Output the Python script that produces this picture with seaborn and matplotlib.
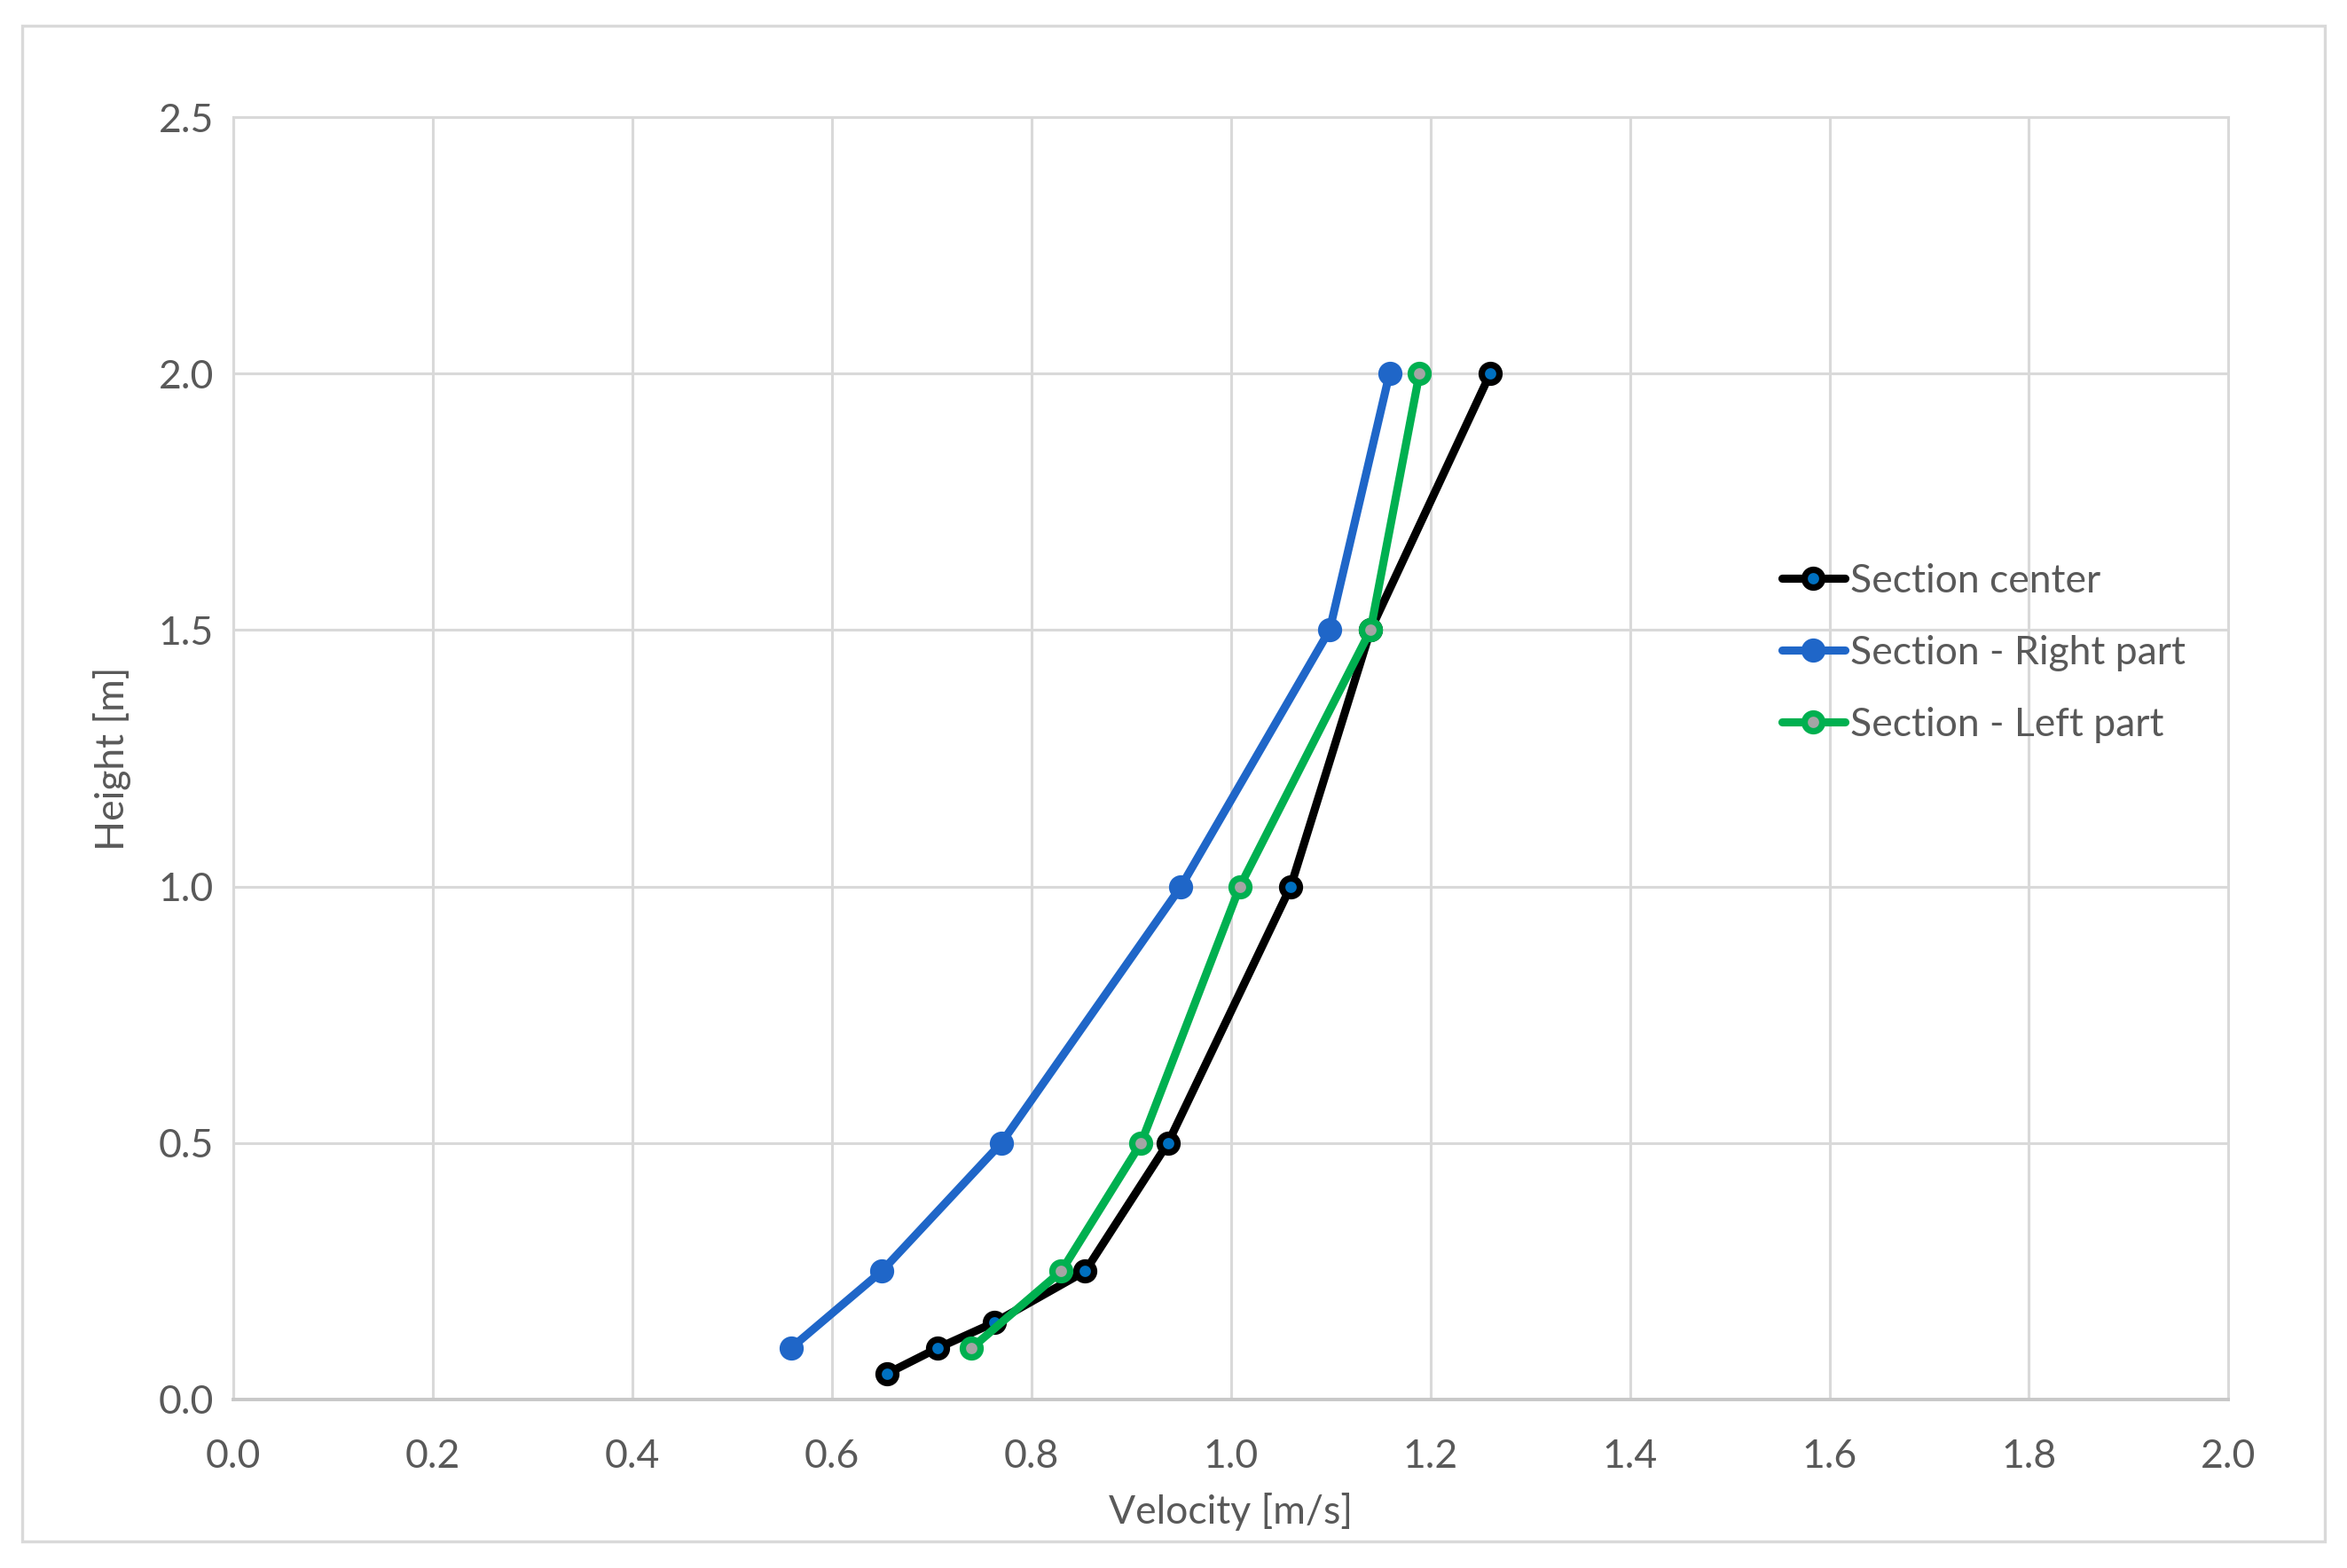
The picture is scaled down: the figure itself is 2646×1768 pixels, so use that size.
import pandas as pd
import seaborn as sns
import matplotlib.pyplot as plt
from matplotlib.patches import Rectangle

# data
center_v = [0.655, 0.706, 0.763, 0.854, 0.937, 1.060, 1.140, 1.260]
center_h = [0.05, 0.10, 0.15, 0.25, 0.50, 1.00, 1.50, 2.00]
right_v = [0.559, 0.650, 0.770, 0.950, 1.099, 1.159]
right_h = [0.10, 0.25, 0.50, 1.00, 1.50, 2.00]
left_v = [0.740, 0.830, 0.910, 1.009, 1.140, 1.189]
left_h = [0.10, 0.25, 0.50, 1.00, 1.50, 2.00]

x_ticks = [0.0, 0.2, 0.4, 0.6, 0.8, 1.0, 1.2, 1.4, 1.6, 1.8, 2.0]
y_ticks = [0.0, 0.5, 1.0, 1.5, 2.0, 2.5]

sns.set_theme(style="white")
plt.rcParams['font.family'] = ['Lato', 'DejaVu Sans']

GRID = "#D9D9D9"
TXT = "#595959"
FS = 16

fig = plt.figure(figsize=(13.23, 8.84), dpi=200)
ax = fig.add_axes([0.0994, 0.1075, 0.8501, 0.8178])

series = [
    ("Section center", center_v, center_h, "#000000", "#0070C0"),
    ("Section - Right part", right_v, right_h, "#1F66C8", "#1F66C8"),
    ("Section - Left part", left_v, left_h, "#00B050", "#A5A5A5"),
]

for name, v, h, col, face in series:
    df = pd.DataFrame({"Velocity": v, "Height": h})
    sns.lineplot(data=df, x="Velocity", y="Height", ax=ax, sort=False,
                 estimator=None, color=col, linewidth=3.3, label=name,
                 marker="o", markersize=7.2, markeredgewidth=2.6,
                 markeredgecolor=col, markerfacecolor=face)

ax.set_xlim(0, 2.0)
ax.set_ylim(0, 2.5)
ax.set_xticks(x_ticks)
ax.set_yticks(y_ticks)
ax.set_xticklabels([f"{t:.1f}" for t in x_ticks])
ax.set_yticklabels([f"{t:.1f}" for t in y_ticks])
ax.grid(True, color=GRID, linewidth=1.1)
ax.set_axisbelow(True)
for s in ax.spines.values():
    s.set_color(GRID)
    s.set_linewidth(1.1)
ax.spines['bottom'].set_color("#C8C8C8")
ax.spines['bottom'].set_linewidth(1.4)
ax.tick_params(axis="both", length=0, labelsize=FS, labelcolor=TXT)
ax.tick_params(axis="x", pad=16)
ax.tick_params(axis="y", pad=8)

ax.set_xlabel("Velocity [m/s]", fontsize=FS, color=TXT, labelpad=7)
ax.set_ylabel("Height [m]", fontsize=FS, color=TXT, labelpad=11)

leg = ax.legend(loc="center left", bbox_to_anchor=(0.776, 0.582), frameon=False,
                fontsize=FS, handlelength=1.6, handletextpad=0.15,
                labelspacing=0.9, borderaxespad=0, borderpad=0)
for t in leg.get_texts():
    t.set_color(TXT)

# outer chart border
fig.patches.append(Rectangle((25 / 2646, 1 - 1738 / 1768), (2621 - 25) / 2646,
                             (1738 - 29) / 1768, transform=fig.transFigure,
                             fill=False, edgecolor=GRID, linewidth=1.2))

plt.savefig("out.png", dpi=200)
plt.close()
